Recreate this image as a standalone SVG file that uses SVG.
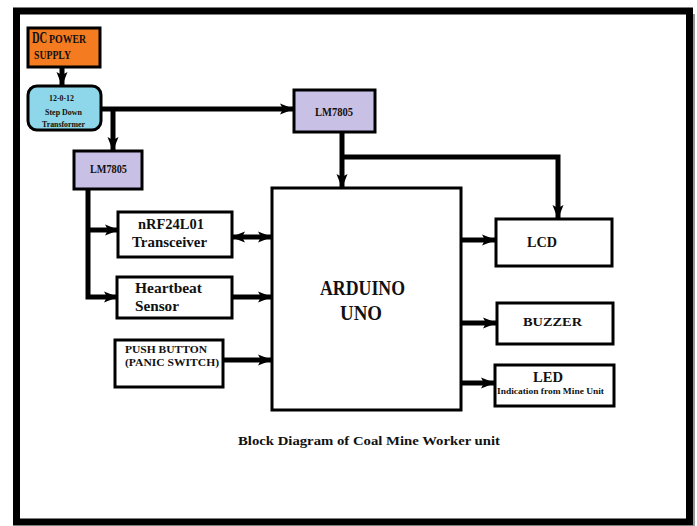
<svg xmlns="http://www.w3.org/2000/svg" width="697" height="526" viewBox="0 0 697 526">
<style>
.box{fill:#fff;stroke:#000;stroke-width:3}
.t{font-family:"Liberation Serif","DejaVu Serif",serif;font-weight:bold;fill:#111}
.c{fill:none;stroke:#000;stroke-width:5}
</style>
<defs>
<marker id="ah" markerUnits="userSpaceOnUse" markerWidth="14" markerHeight="14" viewBox="0 0 14 14" refX="13" refY="7" orient="auto-start-reverse">
<path d="M0,1.5 L14,7 L0,12.5 L3,7 Z" fill="#000"/>
</marker>
</defs>
<rect x="0" y="0" width="697" height="526" fill="#fff"/>
<rect x="16.5" y="11" width="673" height="511" fill="#fff" stroke="#000" stroke-width="7"/>
<line x1="694" y1="14" x2="694" y2="526" stroke="#999" stroke-width="2"/>

<g id="connectors">
<path class="c" d="M62 67 V85" marker-end="url(#ah)"/>
<path class="c" d="M102 109 H293" marker-end="url(#ah)"/>
<path class="c" d="M113 109 V150" marker-end="url(#ah)"/>
<path class="c" d="M88 190 V297 H117" marker-end="url(#ah)"/>
<path class="c" d="M88 230 H118" marker-end="url(#ah)"/>
<path class="c" d="M232 237 H271" marker-start="url(#ah)" marker-end="url(#ah)"/>
<path class="c" d="M232 297 H271" marker-end="url(#ah)"/>
<path class="c" d="M223 360 H271" marker-end="url(#ah)"/>
<path class="c" d="M342 132 V187" marker-end="url(#ah)"/>
<path class="c" d="M342 157 H558 V218" marker-end="url(#ah)"/>
<path class="c" d="M461 240 H495" marker-end="url(#ah)"/>
<path class="c" d="M461 323 H496" marker-end="url(#ah)"/>
<path class="c" d="M461 383 H494" marker-end="url(#ah)"/>
</g>

<g id="dc-power">
<rect x="28" y="28" width="72" height="39" fill="#F47B20" stroke="#000" stroke-width="3"/>
<text class="t" transform="translate(32,43) scale(0.66,1)" font-size="16">DC</text>
<text class="t" transform="translate(49,43) scale(0.82,1)" font-size="12">POWER</text>
<text class="t" x="34" y="59" font-size="12" textLength="37" lengthAdjust="spacingAndGlyphs">SUPPLY</text>
</g>

<g id="transformer">
<rect x="28" y="86" width="73" height="44" rx="9" fill="#8ED6EA" stroke="#000" stroke-width="3"/>
<text class="t" x="49" y="101" font-size="9" textLength="25" lengthAdjust="spacingAndGlyphs">12-0-12</text>
<text class="t" x="45" y="115" font-size="9" textLength="37" lengthAdjust="spacingAndGlyphs">Step Down</text>
<text class="t" x="42" y="127" font-size="9" textLength="43" lengthAdjust="spacingAndGlyphs">Transformer</text>
</g>

<g id="lm7805-left">
<rect x="74" y="151" width="68" height="38" fill="#C9C0E6" stroke="#000" stroke-width="3"/>
<text class="t" x="90" y="173" font-size="12" textLength="37" lengthAdjust="spacingAndGlyphs">LM7805</text>
</g>

<g id="lm7805-right">
<rect x="294" y="90" width="81" height="42" fill="#C9C0E6" stroke="#000" stroke-width="3"/>
<text class="t" x="315" y="116" font-size="12" textLength="38" lengthAdjust="spacingAndGlyphs">LM7805</text>
</g>

<g id="nrf">
<rect class="box" x="118" y="212" width="114" height="45"/>
<text class="t" x="138" y="229" font-size="15" textLength="66" lengthAdjust="spacingAndGlyphs">nRF24L01</text>
<text class="t" x="132" y="247" font-size="15" textLength="75" lengthAdjust="spacingAndGlyphs">Transceiver</text>
</g>

<g id="heartbeat">
<rect class="box" x="117" y="277" width="115" height="41"/>
<text class="t" x="135" y="293" font-size="15" textLength="67" lengthAdjust="spacingAndGlyphs">Heartbeat</text>
<text class="t" x="135" y="311" font-size="15" textLength="44" lengthAdjust="spacingAndGlyphs">Sensor</text>
</g>

<g id="push-button">
<rect class="box" x="115" y="340" width="108" height="47"/>
<text class="t" x="125" y="353" font-size="10" textLength="82" lengthAdjust="spacingAndGlyphs">PUSH BUTTON</text>
<text class="t" x="125" y="366" font-size="10" textLength="94" lengthAdjust="spacingAndGlyphs">(PANIC SWITCH)</text>
</g>

<g id="arduino">
<rect class="box" x="272" y="188" width="189" height="222"/>
<text class="t" x="320" y="295" font-size="22" textLength="85" lengthAdjust="spacingAndGlyphs">ARDUINO</text>
<text class="t" x="340" y="320" font-size="22" textLength="42" lengthAdjust="spacingAndGlyphs">UNO</text>
</g>

<g id="lcd">
<rect class="box" x="496" y="219" width="116" height="47"/>
<text class="t" x="527" y="247" font-size="14" textLength="30" lengthAdjust="spacingAndGlyphs">LCD</text>
</g>

<g id="buzzer">
<rect class="box" x="497" y="303" width="116" height="41"/>
<text class="t" x="523" y="326" font-size="12" textLength="59" lengthAdjust="spacingAndGlyphs">BUZZER</text>
</g>

<g id="led">
<rect class="box" x="495" y="365" width="119" height="41"/>
<text class="t" x="533" y="382" font-size="14" textLength="30" lengthAdjust="spacingAndGlyphs">LED</text>
<text class="t" x="497" y="394" font-size="9" textLength="107" lengthAdjust="spacingAndGlyphs">Indication from Mine Unit</text>
</g>

<text class="t" x="238" y="445" font-size="13" textLength="262" lengthAdjust="spacingAndGlyphs">Block Diagram of Coal Mine Worker unit</text>
</svg>
